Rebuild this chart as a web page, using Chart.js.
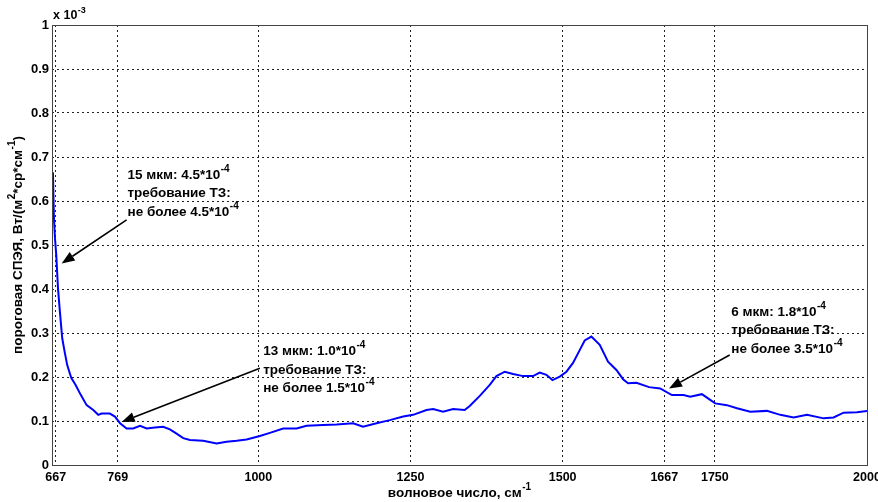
<!DOCTYPE html>
<html>
<head>
<meta charset="utf-8">
<script src="https://cdn.jsdelivr.net/npm/chart.js@4"></script>
<style>
  html, body { margin: 0; padding: 0; background: #fff; }
  #wrap { width: 878px; height: 502px; }
</style>
</head>
<body>
<div id="wrap"><canvas id="NoiseChart"></canvas></div>
<script>
// wavenumber, cm^-1
var wavenumber = [661, 662.6, 664.2, 665.9, 668, 670.8, 674, 677.8, 681.8, 686, 692.6, 699.8, 708,
  717.9, 728.8, 737, 742.5, 756, 764.4, 772.8, 783.6, 794.4, 805.6, 816.5, 830, 843.7, 854.7, 865,
  876.6, 887.6, 909.4, 931.4, 947.8, 964.3, 980.7, 1002.6, 1019, 1040.8, 1062.8, 1079.2, 1106.5,
  1128.5, 1155.7, 1172, 1194.2, 1216, 1238, 1254.3, 1276.3, 1287.2, 1303.5, 1320, 1339, 1347.3,
  1363.8, 1380.2, 1391.2, 1404.8, 1418.5, 1434.9, 1451.3, 1462.3, 1473.3, 1483.2, 1495.2, 1506.2,
  1517, 1528, 1536.2, 1547.2, 1560.9, 1574.5, 1588.3, 1599.2, 1607.4, 1621.2, 1641.9, 1660.2,
  1679.4, 1698.5, 1709.5, 1728.7, 1742.4, 1750.6, 1769.8, 1786.4, 1808.2, 1835.6, 1857.5, 1879.4,
  1901.4, 1928.7, 1945.1, 1961.5, 1983.5, 2000];

// threshold level, x 10^-3 W/(m^2*sr*cm^-1)
var thresholdLevel = [0.665, 0.663, 0.561, 0.515, 0.477, 0.402, 0.348, 0.288, 0.257, 0.227, 0.198,
  0.182, 0.16, 0.136, 0.125, 0.114, 0.117, 0.117, 0.11, 0.095, 0.083, 0.083, 0.089, 0.083, 0.085,
  0.087, 0.081, 0.072, 0.061, 0.057, 0.055, 0.049, 0.053, 0.055, 0.058, 0.066, 0.073, 0.083, 0.083,
  0.089, 0.091, 0.092, 0.095, 0.087, 0.095, 0.102, 0.11, 0.114, 0.125, 0.127, 0.121, 0.127, 0.125,
  0.134, 0.157, 0.182, 0.202, 0.212, 0.207, 0.202, 0.202, 0.21, 0.205, 0.193, 0.201, 0.212, 0.232,
  0.261, 0.283, 0.292, 0.273, 0.235, 0.216, 0.195, 0.186, 0.187, 0.177, 0.174, 0.159, 0.159, 0.155,
  0.161, 0.148, 0.14, 0.136, 0.129, 0.121, 0.123, 0.114, 0.108, 0.114, 0.106, 0.108, 0.119, 0.12,
  0.123];

var xTickValues = [667, 769, 1000, 1250, 1500, 1667, 1750, 2000];

// annotations: [text, superscript] pieces per line
var noteLines = [
  [[["15 мкм: 4.5*10", "-4"]], [["требование ТЗ:", ""]], [["не более 4.5*10", "-4"]]],
  [[["13 мкм: 1.0*10", "-4"]], [["требование ТЗ:", ""]], [["не более 1.5*10", "-4"]]],
  [[["6 мкм: 1.8*10", "-4"]], [["требование ТЗ:", ""]], [["не более 3.5*10", "-4"]]]
];
var noteX = [785, 1008, 1777];
var noteY = [0.659, 0.258, 0.348];
var arrowFromX = [783.6, 1002.5, 1774.4];
var arrowFromY = [0.557, 0.22, 0.25];
var arrowToX = [676.9, 775.4, 1674.7];
var arrowToY = [0.458, 0.098, 0.174];

var FONT = "'Liberation Sans', Arial, sans-serif";

function richText(ctx, parts, x, y, size) {
  var cx = x;
  parts.forEach(function (p) {
    ctx.font = "bold " + size + "px " + FONT;
    ctx.fillText(p[0], cx, y);
    cx += ctx.measureText(p[0]).width;
    if (p[1]) {
      ctx.font = "bold " + Math.round(size * 0.72) + "px " + FONT;
      ctx.fillText(p[1], cx + 0.5, y - size * 0.45);
      cx += ctx.measureText(p[1]).width + 0.5;
    }
  });
  return cx - x;
}

function richWidth(ctx, parts, size) {
  var w = 0;
  parts.forEach(function (p) {
    ctx.font = "bold " + size + "px " + FONT;
    w += ctx.measureText(p[0]).width;
    if (p[1]) {
      ctx.font = "bold " + Math.round(size * 0.72) + "px " + FONT;
      w += ctx.measureText(p[1]).width + 0.5;
    }
  });
  return w;
}

function arrow(ctx, x1, y1, x2, y2) {
  var ang = Math.atan2(y2 - y1, x2 - x1);
  var len = 13, half = 5;
  var bx = x2 - len * Math.cos(ang), by = y2 - len * Math.sin(ang);
  ctx.strokeStyle = "#000";
  ctx.fillStyle = "#000";
  ctx.lineWidth = 1.6;
  ctx.beginPath();
  ctx.moveTo(x1, y1);
  ctx.lineTo(bx, by);
  ctx.stroke();
  ctx.beginPath();
  ctx.moveTo(x2, y2);
  ctx.lineTo(bx + half * Math.sin(ang), by - half * Math.cos(ang));
  ctx.lineTo(bx - half * Math.sin(ang), by + half * Math.cos(ang));
  ctx.closePath();
  ctx.fill();
}

var decorations = {
  id: "decorations",
  afterDraw: function (chart) {
    var ctx = chart.ctx, a = chart.chartArea;
    var xs = chart.scales.x, ys = chart.scales.y;
    ctx.save();
    // frame
    ctx.strokeStyle = "#444";
    ctx.lineWidth = 1;
    ctx.setLineDash([]);
    ctx.strokeRect(Math.round(a.left) + 0.5, Math.round(a.top) + 0.5,
      Math.round(a.right - a.left), Math.round(a.bottom - a.top));

    ctx.fillStyle = "#000";
    ctx.textBaseline = "middle";
    ctx.textAlign = "left";
    // exponent at top of y axis
    richText(ctx, [["x 10", "-3"]], a.left + 1, a.top - 9, 12.5);

    // x axis title
    var xt = [["волновое число, см", "-1"]];
    var w = richWidth(ctx, xt, 13.5);
    richText(ctx, xt, (a.left + a.right) / 2 - w / 2, 493, 13.5);

    // y axis title
    var yt = [["пороговая СПЭЯ, Вт/(м", "2"], ["*ср*см", "-1"], [")", ""]];
    ctx.save();
    ctx.translate(18, (a.top + a.bottom) / 2);
    ctx.rotate(-Math.PI / 2);
    var wy = richWidth(ctx, yt, 13.5);
    richText(ctx, yt, -wy / 2, 0, 13.5);
    ctx.restore();

    // notes and arrows
    for (var i = 0; i < noteLines.length; i++) {
      var px = xs.getPixelForValue(noteX[i]);
      var py = ys.getPixelForValue(noteY[i]);
      ctx.fillStyle = "#000";
      noteLines[i].forEach(function (line, k) {
        richText(ctx, line, px, py + k * 18.5, 13.5);
      });
      arrow(ctx, xs.getPixelForValue(arrowFromX[i]), ys.getPixelForValue(arrowFromY[i]),
        xs.getPixelForValue(arrowToX[i]), ys.getPixelForValue(arrowToY[i]));
    }
    ctx.restore();
  }
};

var points = wavenumber.map(function (w, i) { return { x: w, y: thresholdLevel[i] }; });

var ctx = document.getElementById("NoiseChart");
var myChart = new Chart(ctx, {
  type: "line",
  data: {
    datasets: [
      {
        data: points,
        borderColor: "#0000ff",
        borderWidth: 2,
        pointRadius: 0,
        tension: 0,
        fill: false
      }
    ]
  },
  options: {
    responsive: true,
    maintainAspectRatio: false,
    animation: false,
    layout: { padding: { left: 0, top: 25, right: 11, bottom: 0 } },
    plugins: {
      legend: { display: false },
      tooltip: { enabled: false }
    },
    scales: {
      x: {
        type: "linear",
        min: 661,
        max: 2000,
        afterBuildTicks: function (scale) {
          scale.ticks = xTickValues.map(function (v) { return { value: v }; });
        },
        afterFit: function (scale) {
          scale.height = 37;
          scale.paddingLeft = 0;
          scale.paddingRight = 0;
        },
        ticks: {
          autoSkip: false,
          maxRotation: 0,
          padding: 5,
          color: "#000",
          font: { family: FONT, size: 12.5, weight: "bold" },
          callback: function (v) { return String(v); }
        },
        grid: { color: "#222", lineWidth: 1, drawTicks: false },
        border: { display: false, dash: [2, 3] }
      },
      y: {
        min: 0,
        max: 1,
        afterFit: function (scale) {
          scale.width = 52;
          scale.paddingTop = 0;
          scale.paddingBottom = 0;
        },
        ticks: {
          stepSize: 0.1,
          padding: 3,
          color: "#000",
          font: { family: FONT, size: 13, weight: "bold" },
          callback: function (v) {
            var r = Math.round(v * 10) / 10;
            return (r === 0 || r === 1) ? String(r) : r.toFixed(1);
          }
        },
        grid: { color: "#222", lineWidth: 1, drawTicks: false },
        border: { display: false, dash: [2, 3] }
      }
    }
  },
  plugins: [decorations]
});
</script>
</body>
</html>
